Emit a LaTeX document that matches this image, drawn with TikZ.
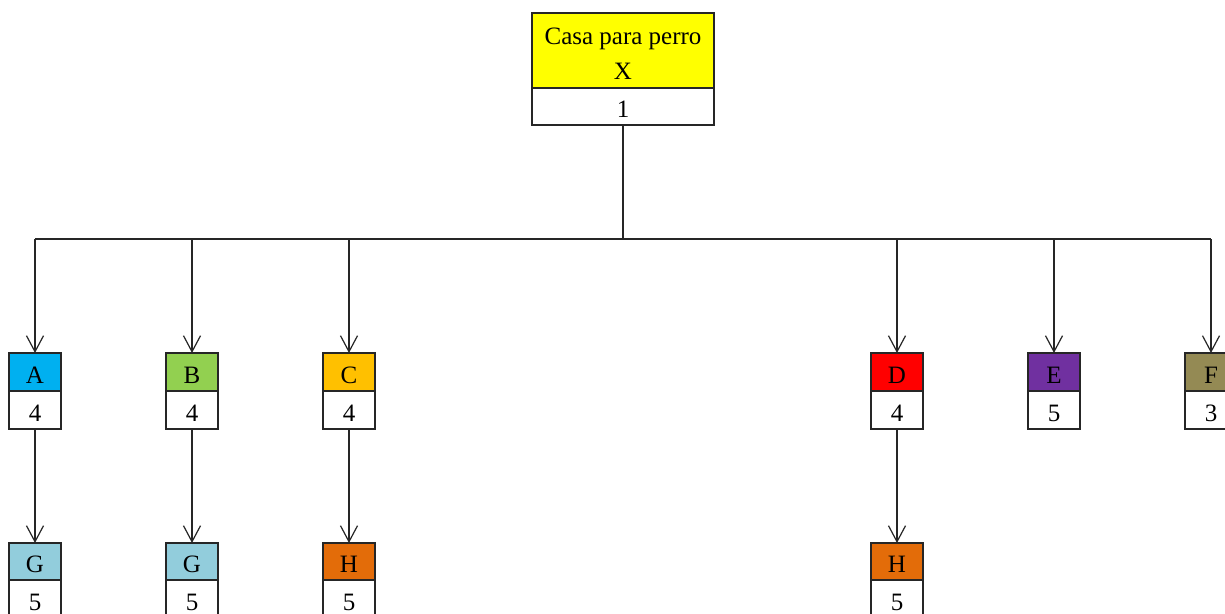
\documentclass[tikz,border=0pt]{standalone}
\usepackage{fontspec}
\setmainfont{Liberation Serif}
\usetikzlibrary{arrows.meta,positioning}
\definecolor{cA}{HTML}{00B0F0}
\definecolor{cB}{HTML}{92D050}
\definecolor{cC}{HTML}{FFC000}
\definecolor{cD}{HTML}{FF0000}
\definecolor{cE}{HTML}{7030A0}
\definecolor{cF}{HTML}{948A54}
\definecolor{cG}{HTML}{92CDDC}
\definecolor{cH}{HTML}{E36C09}
\definecolor{cX}{HTML}{FFFF00}
\tikzset{
  cell/.style={draw=black!85, line width=1.2pt, inner sep=0pt, outer sep=0pt,
    minimum width=52pt, minimum height=38pt, font=\fontsize{25}{35}\selectfont, align=center,
    text height=24pt, text depth=1.5pt},
  rootcell/.style={cell, minimum width=182pt},
  conn/.style={draw=black!85, line width=1.2pt, -{Straight Barb[length=16pt,width=17pt,line width=1.2pt]}},
  plain/.style={draw=black!85, line width=1.2pt}
}
\begin{document}
\begin{tikzpicture}[x=1pt,y=-1pt]
\clip (0,0) rectangle (1225,613);
\fill[white] (0,0) rectangle (1225,613);
% root
\node[rootcell, fill=cX, minimum height=75pt, text height=59pt, text depth=1.5pt] (rootT) at (623,50.5) {Casa para perro\\X};
\node[rootcell, fill=white, minimum height=37pt, below=0pt of rootT] (rootB) {1};
% level 1
\node[cell, fill=cA] (AT) at (35,372) {A};
\node[cell, fill=white, below=0pt of AT] (AB) {4};
\node[cell, fill=cB] (BT) at (192,372) {B};
\node[cell, fill=white, below=0pt of BT] (BB) {4};
\node[cell, fill=cC] (CT) at (349,372) {C};
\node[cell, fill=white, below=0pt of CT] (CB) {4};
\node[cell, fill=cD] (DT) at (897,372) {D};
\node[cell, fill=white, below=0pt of DT] (DB) {4};
\node[cell, fill=cE] (ET) at (1054,372) {E};
\node[cell, fill=white, below=0pt of ET] (EB) {5};
\node[cell, fill=cF] (FT) at (1211,372) {F};
\node[cell, fill=white, below=0pt of FT] (FB) {3};
% level 2
\node[cell, fill=cG, minimum height=37pt] (GaT) at (35,561.5) {G};
\node[cell, fill=white, below=0pt of GaT] (GaB) {5};
\node[cell, fill=cG, minimum height=37pt] (GbT) at (192,561.5) {G};
\node[cell, fill=white, below=0pt of GbT] (GbB) {5};
\node[cell, fill=cH, minimum height=37pt] (HaT) at (349,561.5) {H};
\node[cell, fill=white, below=0pt of HaT] (HaB) {5};
\node[cell, fill=cH, minimum height=37pt] (HbT) at (897,561.5) {H};
\node[cell, fill=white, below=0pt of HbT] (HbB) {5};
% bus
\coordinate (bus) at (623,239);
\draw[plain] (rootB.south) -- (bus);
\draw[plain] (AT.north |- bus) -- (FT.north |- bus);
\foreach \n in {AT,BT,CT,DT,ET,FT}{
  \draw[conn] (\n.north |- bus) -- (\n.north);
}
\draw[conn] (AB.south) -- (GaT.north);
\draw[conn] (BB.south) -- (GbT.north);
\draw[conn] (CB.south) -- (HaT.north);
\draw[conn] (DB.south) -- (HbT.north);
\end{tikzpicture}
\end{document}
